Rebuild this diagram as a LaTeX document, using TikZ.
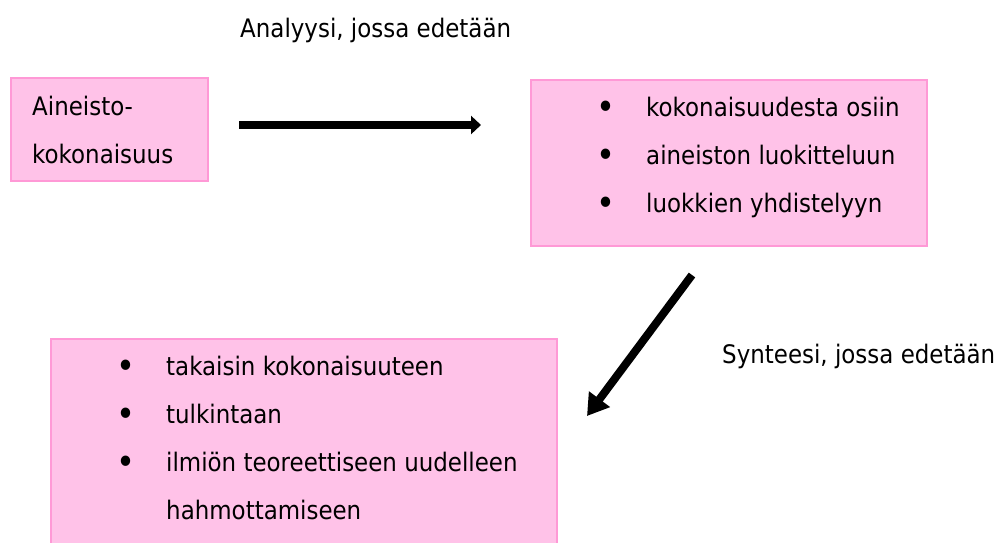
\documentclass[tikz,border=0pt]{standalone}
\usepackage{fontspec}
\setmainfont{DejaVu Sans}[FakeStretch=0.9]
\usetikzlibrary{arrows.meta,positioning}
\definecolor{vaaleanpun}{RGB}{255,194,232}
\definecolor{reunapun}{RGB}{255,153,214}
\newcommand{\kohta}{\makebox[50pt][l]{\raisebox{-3pt}{\scalebox{1.4}{•}}}}

\begin{document}
\begin{tikzpicture}[x=1pt,y=-1pt,
    laatikko/.style={draw=reunapun,fill=vaaleanpun,line width=1.5pt,inner sep=0pt,anchor=north west},
    teksti/.style={font=\fontsize{25.5}{48}\selectfont,align=left,inner sep=0pt,anchor=base west},
    nuoli/.style={-{Triangle[length=10pt,width=18pt]},line width=8.5pt},
    vinonuoli/.style={-{Triangle[length=21pt,width=25pt]},line width=8pt}]
  \useasboundingbox (0,0) rectangle (1004,542);

  \node[laatikko,minimum width=197pt,minimum height=103pt] (aineisto) at (10,77) {};
  \node[laatikko,minimum width=396pt,minimum height=166pt] (luokat)   at (530,79) {};
  \node[laatikko,minimum width=506pt,minimum height=215pt] (synteesi) at (50,338) {};

  % base = viimeisen rivin perusviiva
  \node[teksti] (aineistoteksti) at (32,163) {Aineisto-\\kokonaisuus};
  \node[teksti] (luokatlista) at (596,212)
    {\kohta kokonaisuudesta osiin\\\kohta aineiston luokitteluun\\\kohta luokkien yhdistelyyn};
  \node[teksti] (synteesilista) at (116,519)
    {\kohta takaisin kokonaisuuteen\\\kohta tulkintaan\\\kohta ilmiön teoreettiseen uudelleen\\\hspace*{50pt}hahmottamiseen};

  \node[teksti] (analyysiotsikko) at (240,37) {Analyysi, jossa edetään};
  \node[teksti] (synteesiotsikko) at (722,363) {Synteesi, jossa edetään};

  \coordinate (n1alku) at (239,125);
  \coordinate (n1loppu) at (481,125);
  \coordinate (n2alku) at (692,275);
  \coordinate (n2loppu) at (587,416);

  \draw[nuoli] (n1alku) -- (n1loppu);
  \draw[vinonuoli] (n2alku) -- (n2loppu);
\end{tikzpicture}
\end{document}
